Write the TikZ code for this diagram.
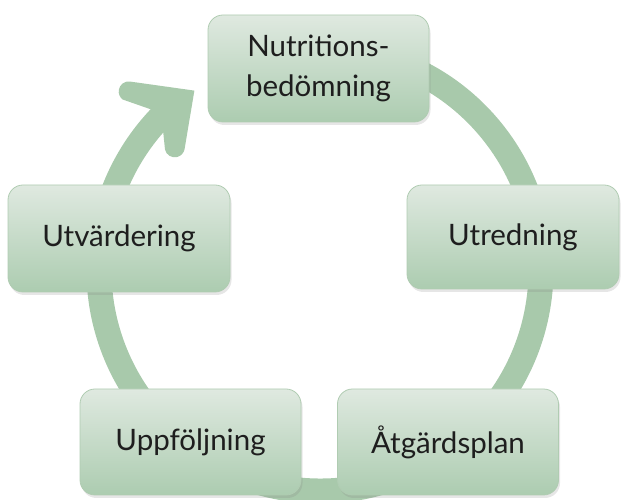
\documentclass[tikz,border=0pt]{standalone}
\usepackage{fontspec}
\setmainfont{Lato}
\usetikzlibrary{shadows,calc}
\definecolor{ringcol}{RGB}{168,201,171}
\definecolor{boxtop}{RGB}{223,233,224}
\definecolor{boxbot}{RGB}{172,204,176}
\definecolor{boxline}{RGB}{176,204,178}
\definecolor{txt}{RGB}{30,30,30}
\begin{document}
\begin{tikzpicture}[x=1pt,y=1pt,
  stagebox/.style={rectangle, rounded corners=15pt, draw=boxline, line width=0.8pt,
    top color=boxtop, bottom color=boxbot, text=txt,
    font=\fontsize{29.5}{40}\selectfont, align=center, inner sep=0pt,
    drop shadow={opacity=0.2, shadow xshift=1.5pt, shadow yshift=-3pt}},
  ringline/.style={draw=ringcol, line width=25pt}]
\useasboundingbox (0,0) rectangle (622,500);
\clip (0,0) rectangle (622,500);
\coordinate (c) at (320,230);
\draw[ringline] ($(c)+(80:221)$) arc[start angle=80, end angle=-226, radius=221];
\coordinate (tip) at ($(c)+(125:219)$);
\begin{scope}[shift={(tip)}, rotate=34]
  \fill[ringcol] (0,0) -- (-48.2,43.4) arc[start angle=47.4, end angle=200, radius=10]
    -- (-40,0) -- (-57.4,-32.6) arc[start angle=160, end angle=316.5, radius=10] -- cycle;
\end{scope}
\node[stagebox, minimum width=221pt, minimum height=107pt] (nb) at (318.5,431.5) {Nutritions-\\bedömning};
\node[stagebox, minimum width=212pt, minimum height=104pt] (ut) at (513,263) {Utredning};
\node[stagebox, minimum width=221pt, minimum height=106pt] (ap) at (448,58) {Åtgärdsplan};
\node[stagebox, minimum width=221pt, minimum height=106pt] (uf) at (190.5,58) {Uppföljning};
\node[stagebox, minimum width=222pt, minimum height=107pt] (uv) at (119,261.5) {Utvärdering};
\end{tikzpicture}
\end{document}
